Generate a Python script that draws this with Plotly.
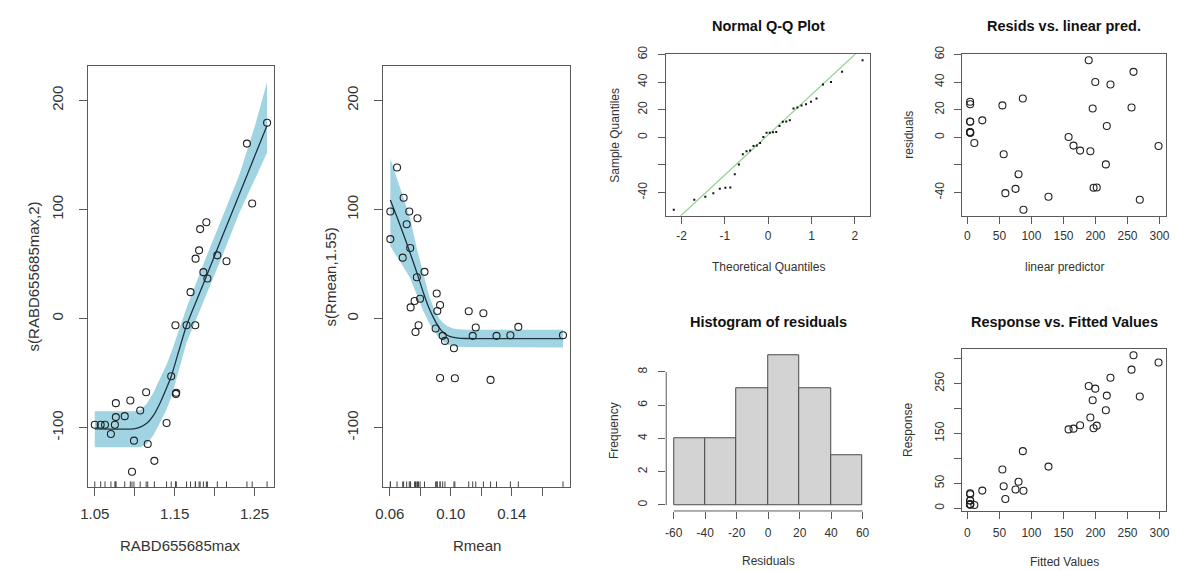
import numpy as np
import plotly.graph_objects as go
from statistics import NormalDist

W, H = 1177, 571

# ---- smooth term s(RABD655685max,2): partial residuals ----
rabd_x = [1.050, 1.0574, 1.0628, 1.0702, 1.0752, 1.0764, 1.0764, 1.0875, 1.0945, 1.0966,
          1.0991, 1.1069, 1.1143, 1.1163, 1.1246, 1.1399, 1.1457, 1.1510, 1.1515, 1.1520,
          1.1649, 1.1699, 1.1758, 1.1762, 1.1806, 1.1819, 1.1860, 1.1897, 1.1910, 1.2034,
          1.2149, 1.2405, 1.2471, 1.2657]
rabd_pr = [-97.3, -97.3, -97.3, -105.8, -97.3, -90.3, -77.5, -89.4, -75.1, -140.4,
           -111.9, -84.2, -67.5, -114.9, -130.4, -95.7, -52.9, -6.1, -69.0, -68.0,
           -6.1, 24.3, -6.1, 55.0, 62.6, 82.1, 42.6, 88.4, 36.8, 58.0,
           52.6, 160.5, 105.5, 179.6]
# fitted smooth and confidence band
rabd_grid = [1.050, 1.0987, 1.1069, 1.1151, 1.1233, 1.1313, 1.1399, 1.1457, 1.1650, 1.1860,
             1.2100, 1.2310, 1.2510, 1.2657]
rabd_fit = [-101, -101, -99.5, -96, -89, -78, -63.5, -53, -6, 32, 76, 114, 150.5, 177]
rabd_upper = [-85, -85, -84, -78, -68, -56, -42, -31, 10, 50, 93, 132, 178, 217]
rabd_lower = [-118, -118, -118, -115, -107, -96, -83, -72, -22, 15, 58, 97, 128, 152]

# ---- smooth term s(Rmean,1.55): partial residuals ----
rmean_x = [0.0604, 0.0604, 0.0648, 0.0685, 0.0691, 0.0711, 0.0728, 0.0734, 0.0737, 0.0763,
           0.0769, 0.0778, 0.0782, 0.0789, 0.0799, 0.0828, 0.0901, 0.0908, 0.0912, 0.0930,
           0.0930, 0.0947, 0.0962, 0.1021, 0.1027, 0.1118, 0.1144, 0.1164, 0.1214, 0.1261,
           0.1300, 0.1391, 0.1443, 0.1736]
rmean_pr = [98.2, 72.9, 138.6, 55.9, 110.9, 86.6, 98.2, 64.7, 10.3, 16.1,
            -12.2, 38.0, 92.1, -6.1, 18.2, 42.9, -9.1, 23.1, 7.0, 12.5,
            -54.4, -15.8, -20.4, -27.1, -54.7, 6.7, -15.8, -8.2, 4.9, -56.2,
            -15.8, -15.2, -7.6, -15.2]
rmean_grid = [0.0604, 0.0648, 0.0691, 0.0734, 0.0778, 0.0820, 0.0858, 0.0890, 0.0920,
              0.0950, 0.0980, 0.1010, 0.1050, 0.1100, 0.1200, 0.1736]
rmean_fit = [108.8, 93.0, 77.0, 60.0, 42.0, 24.0, 9.5, 0.0, -7.5,
             -12.5, -15.5, -17.0, -17.9, -18.2, -18.3, -18.3]
rmean_upper = [146.8, 128.0, 110.0, 92.0, 64.0, 40.0, 21.0, 9.0, 1.0,
               -4.0, -7.0, -8.8, -9.8, -10.2, -10.3, -10.3]
rmean_lower = [66.3, 57.0, 47.0, 37.0, 22.0, 7.0, -4.0, -11.0, -17.0,
               -21.0, -23.5, -25.0, -26.0, -26.4, -26.5, -26.5]

# ---- model diagnostics: fitted values (linear predictor) and residuals ----
fitted = [4.2, 4.3, 4.1, 4.4, 4.0, 4.3, 4.2, 4.5, 10.8, 23.2,
          54.6, 86.5, 56.6, 79.8, 59.2, 75.1, 87.5, 126.6, 158.0, 165.7,
          176.0, 192.0, 189.4, 199.7, 195.6, 223.4, 217.7, 216.2, 197.0, 202.0,
          259.4, 256.3, 269.2, 298.5]
resid = [25.8, 23.9, 11.5, 11.3, 3.8, 3.6, 3.4, 3.3, -4.1, 12.3,
         23.1, 28.1, -12.3, -26.7, -40.4, -37.3, -52.4, -43.0, 0.2, -6.0,
         -9.6, -10.1, 55.8, 40.1, 20.9, 38.2, 8.2, -19.6, -36.5, -36.3,
         47.4, 21.6, -45.2, -6.25]

# axis ticks
rabd_ticks = [1.05, 1.10, 1.15, 1.20, 1.25]
rabd_ticklab = ["1.05", "", "1.15", "", "1.25"]
rmean_ticks = [0.06, 0.08, 0.10, 0.12, 0.14, 0.16]
rmean_ticklab = ["0.06", "", "0.10", "", "0.14", ""]
s_ticks = [-100, 0, 100, 200]
qq_xticks = [-2, -1, 0, 1, 2]
res_yticks = [-40, -20, 0, 20, 40, 60]
res_yticklab = ["-40", "", "0", "20", "40", "60"]
fit_xticks = [0, 50, 100, 150, 200, 250, 300]
resp_yticks = [0, 50, 100, 150, 200, 250, 300]
resp_yticklab = ["0", "50", "", "150", "", "250", ""]
hist_breaks = [-60, -40, -20, 0, 20, 40, 60]
hist_yticks = [0, 2, 4, 6, 8]

fitted_a = np.array(fitted)
resid_a = np.array(resid)
response = fitted_a + resid_a


def ext(lo, hi):
    d = (hi - lo) * 0.04
    return [lo - d, hi + d]


def px_dom(a, b, total, flip=False):
    if flip:
        return [1 - b / total, 1 - a / total]
    return [a / total, b / total]


BOX = "#5a5a5a"
TXT = "#333333"
INK = "#222222"
FONT = "Liberation Sans, Arial, sans-serif"


def make_axis(dom, rng, tickvals, ticktext, fsize, ticklen, box=True, angle=None,
              anchor=None, standoff=0):
    d = dict(domain=dom, range=rng, tickmode="array", tickvals=tickvals,
             ticktext=ticktext if ticktext is not None else [str(v) for v in tickvals],
             ticks="outside", ticklen=ticklen, tickwidth=1, tickcolor=BOX,
             showline=box, linecolor=BOX, linewidth=1, mirror=box,
             showgrid=False, zeroline=False, fixedrange=True,
             ticklabelstandoff=standoff,
             tickfont=dict(family=FONT, size=fsize, color=TXT), anchor=anchor)
    if angle is not None:
        d["tickangle"] = angle
    return d


fig = go.Figure()

# pixel boxes of the six panels
p1x, p2x = (80.7, 268.7), (379.3, 567.7)
pty = (58.3, 486.0)
rx1, rx2 = (665.0, 871.0), (964.3, 1170.0)
ry1, ry2 = (46.0, 210.0), (345.7, 510.0)

s_range = ext(min(min(rabd_pr), min(rmean_pr), min(rabd_lower), min(rmean_lower)),
              max(max(rabd_pr), max(rmean_pr), max(rabd_upper), max(rmean_upper)))

# --- smooth panels ---
for (gx, gfit, gup, glo, px, pr, xa, ya) in [
        (rabd_grid, rabd_fit, rabd_upper, rabd_lower, rabd_x, rabd_pr, "x", "y"),
        (rmean_grid, rmean_fit, rmean_upper, rmean_lower, rmean_x, rmean_pr, "x2", "y2")]:
    fig.add_trace(go.Scatter(x=list(gx) + list(gx)[::-1], y=list(gup) + list(glo)[::-1],
                             fill="toself", fillcolor="#a1d4e3", line=dict(width=0),
                             mode="lines", xaxis=xa, yaxis=ya, hoverinfo="skip"))
    fig.add_trace(go.Scatter(x=gx, y=gfit, mode="lines",
                             line=dict(color="#1d3340", width=1.3, shape="spline", smoothing=0.6),
                             xaxis=xa, yaxis=ya))
    fig.add_trace(go.Scatter(x=px, y=pr, mode="markers", xaxis=xa, yaxis=ya,
                             marker=dict(symbol="circle-open", size=7, color=INK, line=dict(width=1.1, color=INK))))
    for v in px:
        fig.add_shape(type="line", xref=xa, yref=ya + " domain", x0=v, x1=v, y0=0, y1=0.014,
                      line=dict(color="#444444", width=1))

# --- Normal Q-Q plot ---
n = len(resid_a)
nd = NormalDist()
probs = (np.arange(1, n + 1) - 0.5) / n
theo = np.array([nd.inv_cdf(p) for p in probs])
samp = np.sort(resid_a)
q1, q3 = np.quantile(resid_a, [0.25, 0.75])
z1, z3 = nd.inv_cdf(0.25), nd.inv_cdf(0.75)
slope = (q3 - q1) / (z3 - z1)
icpt = q1 - slope * z1
qq_xr = ext(theo.min(), theo.max())
res_yr = ext(resid_a.min(), resid_a.max())
line_x = np.array(qq_xr)
fig.add_trace(go.Scatter(x=line_x, y=icpt + slope * line_x, mode="lines",
                         line=dict(color="#8fd08f", width=1.2), xaxis="x3", yaxis="y3"))
fig.add_trace(go.Scatter(x=theo, y=samp, mode="markers", xaxis="x3", yaxis="y3",
                         marker=dict(symbol="square", size=2, color="#111111")))

# --- residuals vs linear predictor ---
fit_xr = ext(fitted_a.min(), fitted_a.max())
fig.add_trace(go.Scatter(x=fitted_a, y=resid_a, mode="markers", xaxis="x4", yaxis="y4",
                         marker=dict(symbol="circle-open", size=7, color=INK, line=dict(width=1.1, color=INK))))

# --- histogram of residuals ---
fig.add_trace(go.Histogram(x=resid_a, xbins=dict(start=hist_breaks[0], end=hist_breaks[-1],
                                                 size=hist_breaks[1] - hist_breaks[0]),
                           autobinx=False, marker=dict(color="#d3d3d3", line=dict(color="#4a4a4a", width=1)),
                           xaxis="x5", yaxis="y5"))
counts, _ = np.histogram(resid_a, bins=hist_breaks)
hist_yr = ext(0, counts.max())
fig.add_shape(type="line", xref="x5", yref="y5 domain", x0=hist_breaks[0], x1=hist_breaks[-1], y0=0, y1=0,
              line=dict(color=BOX, width=1))
fig.add_shape(type="line", xref="x5 domain", yref="y5", x0=0, x1=0, y0=hist_yticks[0], y1=hist_yticks[-1],
              line=dict(color=BOX, width=1))

# --- response vs fitted ---
resp_yr = ext(response.min(), response.max())
fig.add_trace(go.Scatter(x=fitted_a, y=response, mode="markers", xaxis="x6", yaxis="y6",
                         marker=dict(symbol="circle-open", size=7, color=INK, line=dict(width=1.1, color=INK))))

layout = dict(
    width=W, height=H, margin=dict(l=0, r=0, t=0, b=0),
    paper_bgcolor="white", plot_bgcolor="white", showlegend=False, bargap=0,
    xaxis=make_axis(px_dom(*p1x, W), ext(min(rabd_x), max(rabd_x)), rabd_ticks, rabd_ticklab, 15, 8,
                    anchor="y", standoff=5),
    yaxis=make_axis(px_dom(*pty, H, True), s_range, s_ticks, None, 15, 8, angle=-90, anchor="x", standoff=10),
    xaxis2=make_axis(px_dom(*p2x, W), ext(min(rmean_x), max(rmean_x)), rmean_ticks, rmean_ticklab, 15, 8,
                     anchor="y2", standoff=5),
    yaxis2=make_axis(px_dom(*pty, H, True), s_range, s_ticks, None, 15, 8, angle=-90, anchor="x2", standoff=10),
    xaxis3=make_axis(px_dom(*rx1, W), qq_xr, qq_xticks, None, 12, 7, anchor="y3", standoff=2),
    yaxis3=make_axis(px_dom(*ry1, H, True), res_yr, res_yticks, res_yticklab, 12, 7, angle=-90,
                     anchor="x3", standoff=6),
    xaxis4=make_axis(px_dom(*rx2, W), fit_xr, fit_xticks, None, 12, 7, anchor="y4", standoff=2),
    yaxis4=make_axis(px_dom(*ry1, H, True), res_yr, res_yticks, res_yticklab, 12, 7, angle=-90,
                     anchor="x4", standoff=6),
    xaxis5=make_axis(px_dom(*rx1, W), ext(hist_breaks[0], hist_breaks[-1]), hist_breaks, None, 12, 7,
                     box=False, anchor="y5", standoff=4),
    yaxis5=make_axis(px_dom(*ry2, H, True), hist_yr, hist_yticks, None, 12, 7, box=False, angle=-90,
                     anchor="x5", standoff=6),
    xaxis6=make_axis(px_dom(*rx2, W), fit_xr, fit_xticks, None, 12, 7, anchor="y6", standoff=4),
    yaxis6=make_axis(px_dom(*ry2, H, True), resp_yr, resp_yticks, resp_yticklab, 12, 7, angle=-90,
                     anchor="x6", standoff=6),
)
fig.update_layout(**layout)


def label(text, x, y, size, angle=0, bold=False, color=TXT):
    fig.add_annotation(text=("<b>%s</b>" % text) if bold else text, x=x / W, y=1 - y / H,
                       xref="paper", yref="paper", showarrow=False, textangle=angle,
                       xanchor="center", yanchor="middle",
                       font=dict(family=FONT, size=size, color=color))


# axis titles for smooth panels
label("RABD655685max", 174.5, 545, 15)
label("s(RABD655685max,2)", 26, 272, 15, angle=-90)
label("Rmean", 473.5, 545, 15)
label("s(Rmean,1.55)", 326, 272, 15, angle=-90)

# diagnostic panel titles and axis titles
label("Normal Q-Q Plot", 768, 17, 14.5, bold=True, color="#111111")
label("Theoretical Quantiles", 768, 262, 12)
label("Sample Quantiles", 613, 128, 12, angle=-90)
label("Resids vs. linear pred.", 1067, 17, 14.5, bold=True, color="#111111")
label("linear predictor", 1067, 262, 12)
label("residuals", 910, 128, 12, angle=-90)
label("Histogram of residuals", 768, 318, 14.5, bold=True, color="#111111")
label("Residuals", 768, 561, 12)
label("Frequency", 613, 428, 12, angle=-90)
label("Response vs. Fitted Values", 1067, 318, 14.5, bold=True, color="#111111")
label("Fitted Values", 1067, 562, 12)
label("Response", 910, 428, 12, angle=-90)

fig.write_html("out.html")
